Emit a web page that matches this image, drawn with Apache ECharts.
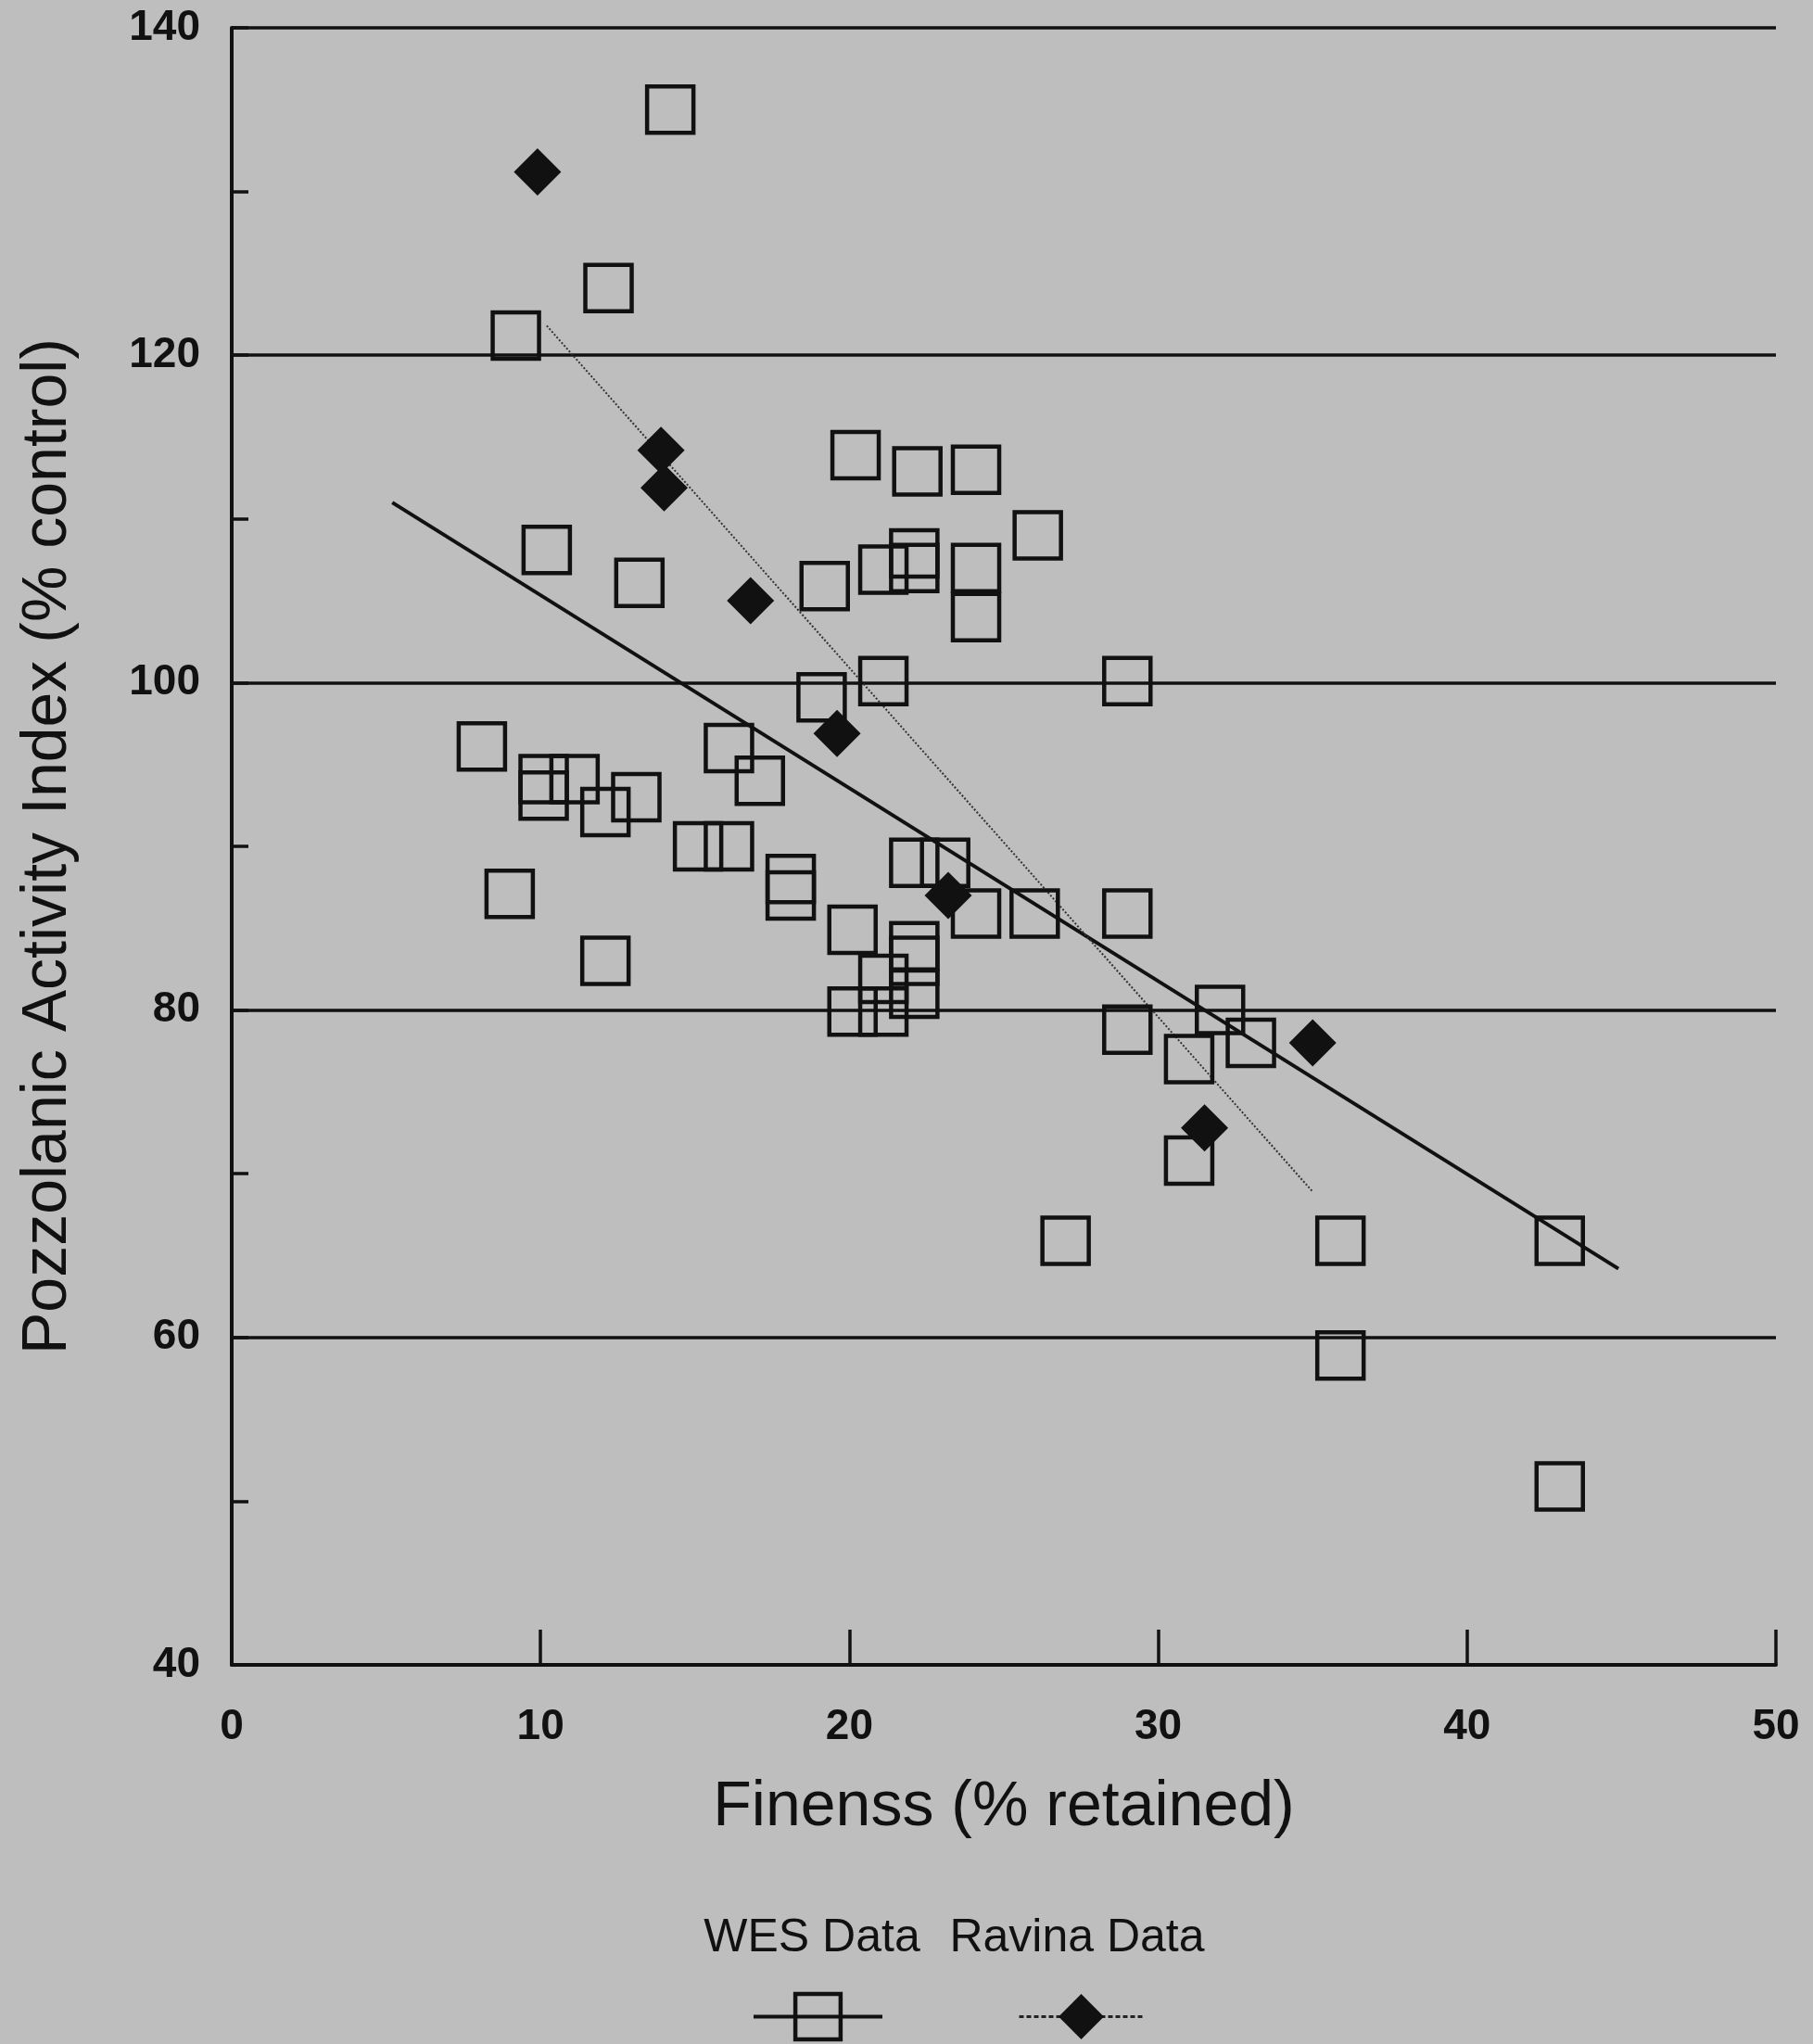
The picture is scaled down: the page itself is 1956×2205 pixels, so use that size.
<!DOCTYPE html>
<html lang="en" style="height: 100%">

<head>
  <meta charset="utf-8">
  <style>
    html,
    body {
      margin: 0;
      padding: 0;
      width: 100%;
      height: 100%;
      overflow: hidden;
      background: #bebebe;
    }
  </style>
  <script type="text/javascript" src="https://cdn.jsdelivr.net/npm/echarts@6/dist/echarts.min.js"></script>
</head>

<body>
  <div id="container" style="height: 100%;width: 100%;"></div>

  <script type="text/javascript">
    // WES data (open squares)
    var wesFineness = [14.2, 12.2, 9.2, 10.2, 13.2, 20.2, 22.2, 24.1, 26.1, 19.2,
      22.1, 21.1, 22.1, 24.1, 24.1, 21.1, 19.1, 29.0, 8.1, 10.1,
      10.1, 11.1, 12.1, 13.1, 16.1, 17.1, 15.1, 16.1, 18.1, 18.1,
      9.0, 12.1, 22.1, 23.1, 24.1, 26.0, 29.0, 20.1, 22.1, 22.1,
      22.1, 21.1, 20.1, 21.1, 29.0, 32.0, 33.0, 31.0, 31.0, 27.0,
      35.9, 43.0, 35.9, 43.0];
    var wesActivity = [135.0, 124.1, 121.2, 108.1, 106.1, 113.9, 112.9, 113.0, 109.0, 105.9,
      107.9, 106.9, 107.0, 107.0, 104.0, 100.1, 99.1, 100.1, 96.1, 94.1,
      93.1, 94.1, 92.1, 93.0, 96.0, 94.0, 90.0, 90.0, 88.0, 87.0,
      87.1, 83.0, 89.0, 89.0, 85.9, 85.9, 85.9, 84.9, 83.9, 83.0,
      81.0, 81.9, 79.9, 79.9, 78.8, 80.0, 78.0, 77.0, 70.8, 65.9,
      65.9, 65.9, 58.9, 50.9];

    // Ravina data (filled diamonds)
    var ravinaFineness = [9.9, 13.9, 14.0, 16.8, 19.6, 23.2, 35.0, 31.5];
    var ravinaActivity = [131.2, 114.2, 111.9, 105.0, 96.9, 87.0, 78.0, 72.8];

    // fitted lines (end points)
    var wesFitFineness = [5.2, 44.9];
    var wesFitActivity = [111.0, 64.2];
    var ravinaFitFineness = [10.2, 35.0];
    var ravinaFitActivity = [121.8, 68.9];

    var seriesNames = ['WES Data', 'Ravina Data'];

    var ink = '#111111';
    var font = '"Liberation Sans", Arial, sans-serif';

    function pairs(xs, ys) {
      return xs.map(function (x, i) { return [x, ys[i]]; });
    }

    var dom = document.getElementById('container');
    var myChart = echarts.init(dom, null, { renderer: 'canvas' });

    var option = {
      backgroundColor: '#bebebe',
      animation: false,
      textStyle: { fontFamily: font },
      grid: { left: 250, right: 40, top: 30, bottom: 409, outerBoundsMode: 'none' },
      xAxis: {
        type: 'value',
        min: 0,
        max: 50,
        interval: 10,
        name: 'Finenss (% retained)',
        nameLocation: 'middle',
        nameGap: 120,
        nameTextStyle: { fontSize: 68, color: ink, fontFamily: font },
        axisLine: { show: true, onZero: false, lineStyle: { color: ink, width: 4 } },
        axisTick: { show: true, inside: true, length: 38, lineStyle: { color: ink, width: 3.5 } },
        axisLabel: { fontSize: 46, color: ink, margin: 44, fontFamily: font, fontWeight: 'bold' },
        splitLine: { show: false }
      },
      yAxis: {
        type: 'value',
        min: 40,
        max: 140,
        interval: 20,
        name: 'Pozzolanic Activity Index (% control)',
        nameLocation: 'middle',
        nameRotate: 90,
        nameGap: 164,
        nameTextStyle: { fontSize: 68, color: ink, fontFamily: font },
        axisLine: { show: true, onZero: false, lineStyle: { color: ink, width: 4 } },
        axisTick: { show: true, inside: true, length: 18, lineStyle: { color: ink, width: 3.5 } },
        minorTick: { show: true, splitNumber: 2, length: 18, lineStyle: { color: ink, width: 3.5 } },
        axisLabel: { fontSize: 46, color: ink, margin: 34, fontFamily: font, fontWeight: 'bold' },
        splitLine: { show: true, lineStyle: { color: ink, width: 3.5 } }
      },
      legend: [
        {
          data: [{
            name: seriesNames[0],
            lineStyle: { opacity: 1, width: 4, color: ink, type: 'solid' },
            itemStyle: { color: 'transparent', borderColor: ink, borderWidth: 4.5 }
          }],
          left: 806,
          top: 2140,
          itemWidth: 139,
          itemHeight: 61,
          selectedMode: false,
          formatter: function () { return ''; }
        },
        {
          data: [{
            name: seriesNames[1],
            lineStyle: { opacity: 1, width: 3, color: '#222222', type: [5, 3] },
            itemStyle: { color: ink, borderWidth: 0 }
          }],
          left: 1093,
          top: 2140,
          itemWidth: 134,
          itemHeight: 61,
          selectedMode: false,
          formatter: function () { return ''; }
        }
      ],
      graphic: [
        {
          type: 'text', x: 876, y: 2091, silent: true,
          style: { text: seriesNames[0], align: 'center', verticalAlign: 'middle', font: '50px ' + font, fill: ink }
        },
        {
          type: 'text', x: 1162, y: 2091, silent: true,
          style: { text: seriesNames[1], align: 'center', verticalAlign: 'middle', font: '50px ' + font, fill: ink }
        }
      ],
      series: [
        {
          name: 'WES fit',
          type: 'line',
          data: pairs(wesFitFineness, wesFitActivity),
          symbol: 'none',
          silent: true,
          z: 2,
          lineStyle: { color: ink, width: 4 }
        },
        {
          name: 'Ravina fit',
          type: 'line',
          data: pairs(ravinaFitFineness, ravinaFitActivity),
          symbol: 'none',
          silent: true,
          z: 2,
          lineStyle: { color: '#333333', width: 2, type: 'dotted' }
        },
        {
          name: seriesNames[0],
          type: 'line',
          data: pairs(wesFineness, wesActivity),
          symbol: 'rect',
          symbolSize: 50,
          showSymbol: true,
          silent: true,
          z: 3,
          lineStyle: { opacity: 0 },
          itemStyle: { color: 'transparent', borderColor: ink, borderWidth: 4.5 }
        },
        {
          name: seriesNames[1],
          type: 'line',
          data: pairs(ravinaFineness, ravinaActivity),
          symbol: 'diamond',
          symbolSize: 51,
          showSymbol: true,
          silent: true,
          z: 4,
          lineStyle: { opacity: 0 },
          itemStyle: { color: ink }
        }
      ]
    };

    if (option && typeof option === 'object') {
      myChart.setOption(option);
    }

    window.addEventListener('resize', myChart.resize);
  </script>
</body>

</html>
